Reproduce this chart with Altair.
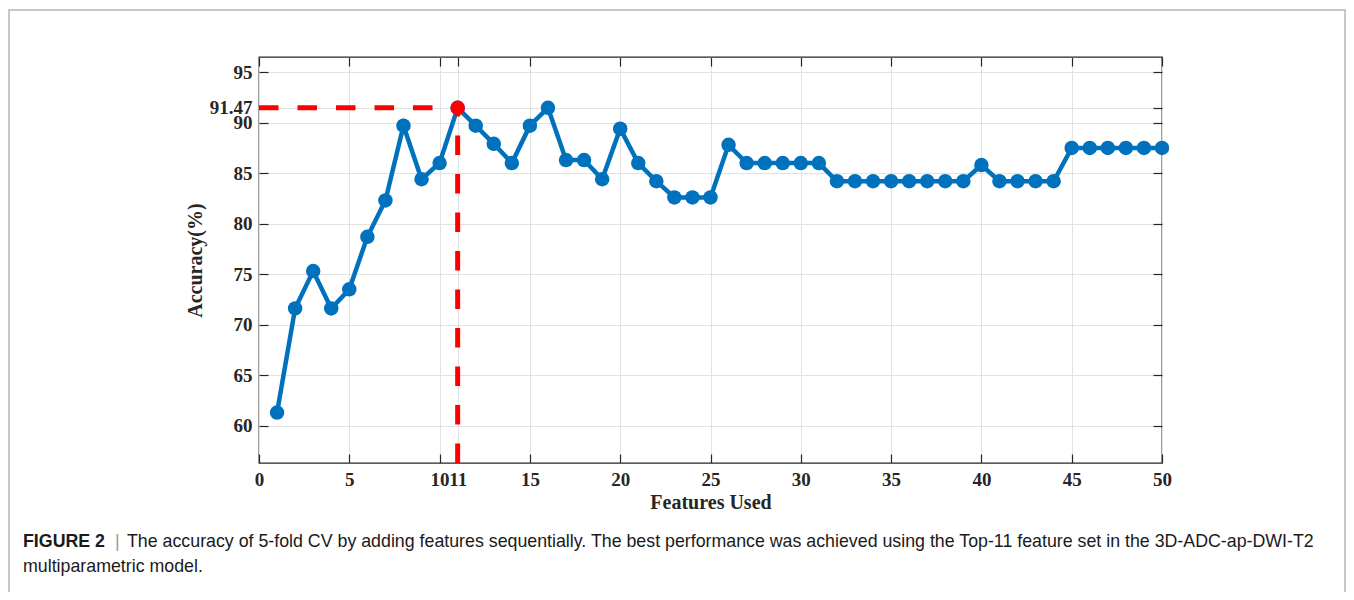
import altair as alt
import pandas as pd

# ---- data ----
features = list(range(1, 51))
accuracy = [61.3, 71.6, 75.3, 71.6, 73.5, 78.7, 82.3, 89.7, 84.4, 86.0,
            91.47, 89.7, 87.9, 86.0, 89.7, 91.47, 86.3, 86.3, 84.4, 89.4,
            86.0, 84.2, 82.6, 82.6, 82.6, 87.8, 86.0, 86.0, 86.0, 86.0,
            86.0, 84.2, 84.2, 84.2, 84.2, 84.2, 84.2, 84.2, 84.2, 85.8,
            84.2, 84.2, 84.2, 84.2, 87.5, 87.5, 87.5, 87.5, 87.5, 87.5]
best_k = 11
best_acc = 91.47
x_ticks = [0, 5, 10, 11, 15, 20, 25, 30, 35, 40, 45, 50]
y_ticks = [60, 65, 70, 75, 80, 85, 90, 91.47, 95]
x_domain = [0, 50]
y_domain = [56.3, 96.5]
x_title = "Features Used"
y_title = "Accuracy(%)"
caption_bold = "FIGURE 2"
caption_sep = "|"
caption_line1 = ("The accuracy of 5-fold CV by adding features sequentially. The best performance "
                 "was achieved using the Top-11 feature set in the 3D-ADC-ap-DWI-T2")
caption_line2 = "multiparametric model."

df = pd.DataFrame({"Features": features, "Accuracy": accuracy})
best_df = pd.DataFrame({"x0": [x_domain[0]], "k": [best_k], "acc": [best_acc], "ybot": [y_domain[0]]})

BLUE = "#0072BD"
RED = "#FF0000"
DARK = "#262626"
SERIF = "Liberation Serif"
SANS = "Liberation Sans"
CAP = 17.8

xs = alt.Scale(domain=x_domain, nice=False, zero=False)
ys = alt.Scale(domain=y_domain, nice=False, zero=False)

common = dict(domain=False, tickColor=DARK, tickWidth=1.2, tickSize=9, offset=-9,
              labelFont=SERIF, labelFontSize=19, labelFontWeight="bold", labelColor=DARK,
              labelOverlap=False, labelFlush=False, labelExpr="'' + datum.value",
              titleFont=SERIF, titleFontSize=20, titleFontWeight="bold", titleColor=DARK)

x_bottom = alt.Axis(orient="bottom", values=x_ticks, grid=True, gridColor="#e2e2e2", gridWidth=1,
                    title=x_title, labelPadding=7, titlePadding=3, **common)
y_left = alt.Axis(orient="left", values=y_ticks, grid=True, gridColor="#e2e2e2", gridWidth=1,
                  title=y_title, labelPadding=7, titlePadding=4, **common)
x_top = alt.Axis(orient="top", values=x_ticks, grid=False, labels=False, title=None,
                 domain=False, tickColor=DARK, tickWidth=1.2, tickSize=9, offset=-9)
y_right = alt.Axis(orient="right", values=y_ticks, grid=False, labels=False, title=None,
                   domain=False, tickColor=DARK, tickWidth=1.2, tickSize=9, offset=-9)

line = alt.Chart(df).mark_line(color=BLUE, strokeWidth=4.5).encode(
    x=alt.X("Features:Q", scale=xs, axis=x_bottom),
    y=alt.Y("Accuracy:Q", scale=ys, axis=y_left),
)
pts = alt.Chart(df).mark_point(filled=True, color=BLUE, size=210, opacity=1).encode(
    x=alt.X("Features:Q", scale=xs, axis=None),
    y=alt.Y("Accuracy:Q", scale=ys, axis=None),
)
hrule = alt.Chart(best_df).mark_rule(color=RED, strokeWidth=5, strokeDash=[19.5, 19]).encode(
    x=alt.X("x0:Q", scale=xs, axis=None),
    x2="k:Q",
    y=alt.Y("acc:Q", scale=ys, axis=None),
)
vrule = alt.Chart(best_df).mark_rule(color=RED, strokeWidth=5, strokeDash=[19.5, 19]).encode(
    x=alt.X("k:Q", scale=xs, axis=None),
    y=alt.Y("ybot:Q", scale=ys, axis=None),
    y2="acc:Q",
)
best_pt = alt.Chart(best_df).mark_point(filled=True, color=RED, size=210, opacity=1).encode(
    x=alt.X("k:Q", scale=xs, axis=x_top),
    y=alt.Y("acc:Q", scale=ys, axis=y_right),
)

frame = alt.Chart(best_df).mark_rect(fillOpacity=0, stroke="#b5b5b5", strokeWidth=1.5).encode(
    x=alt.value(-250), x2=alt.value(1086), y=alt.value(-47), y2=alt.value(560)
)
cap_b = alt.Chart(best_df).mark_text(align="left", baseline="alphabetic", font=SANS, fontSize=CAP,
                                     fontWeight="bold", color="#1a1a1a").encode(
    x=alt.value(-236), y=alt.value(490), text=alt.value(caption_bold))
cap_s = alt.Chart(best_df).mark_text(align="left", baseline="alphabetic", font=SANS, fontSize=CAP,
                                     color="#999999").encode(
    x=alt.value(-144), y=alt.value(490), text=alt.value(caption_sep))
cap_1 = alt.Chart(best_df).mark_text(align="left", baseline="alphabetic", font=SANS, fontSize=CAP,
                                     color="#1a1a1a").encode(
    x=alt.value(-132), y=alt.value(490), text=alt.value(caption_line1))
cap_2 = alt.Chart(best_df).mark_text(align="left", baseline="alphabetic", font=SANS, fontSize=CAP,
                                     color="#1a1a1a").encode(
    x=alt.value(-236), y=alt.value(515), text=alt.value(caption_line2))

chart = alt.layer(line, pts, hrule, vrule, best_pt, frame, cap_b, cap_s, cap_1, cap_2).resolve_axis(
    x="independent", y="independent"
).properties(
    width=903, height=406,
    autosize=alt.AutoSizeParams(type="none"),
    padding={"left": 251, "top": 49, "right": 184, "bottom": 129},
    background="white",
).configure_view(stroke=DARK, strokeWidth=1.3)

chart.save("out.html", embed_options={"renderer": "svg", "actions": False})
